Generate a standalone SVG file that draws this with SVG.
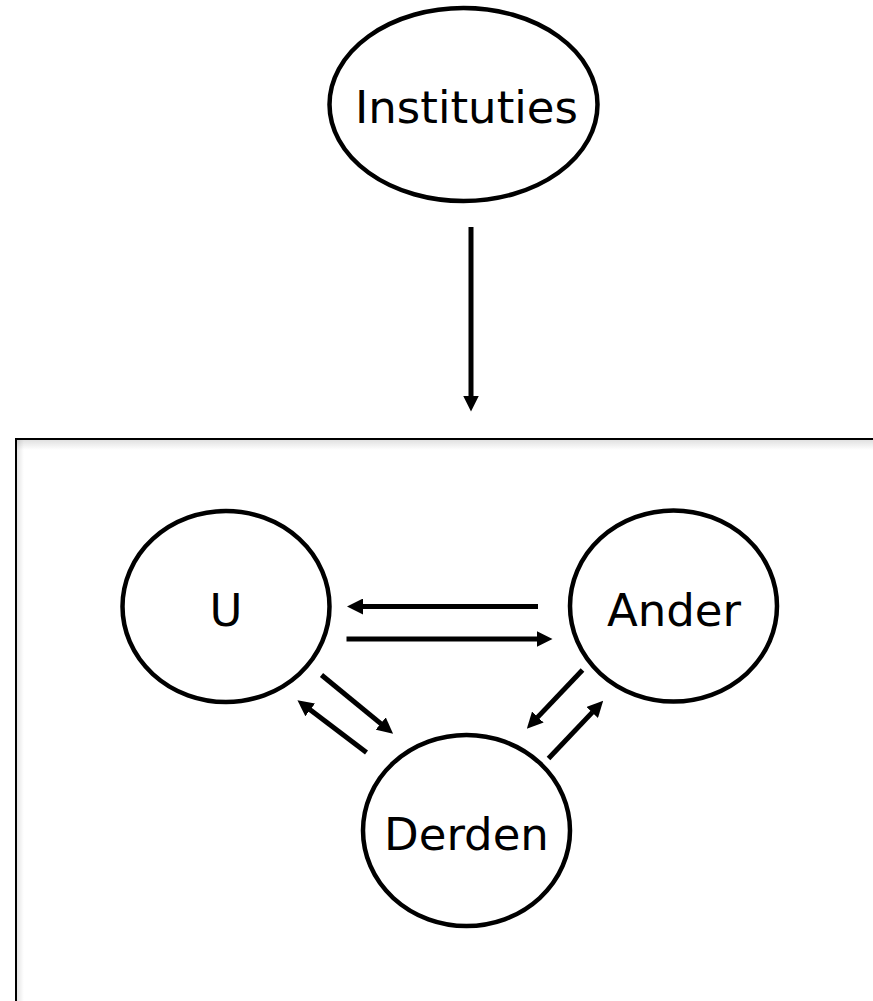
<svg xmlns="http://www.w3.org/2000/svg" width="873" height="1001" viewBox="0 0 873 1001">
  <style>
    .node { fill: #ffffff; stroke: #000000; stroke-width: 4.5; }
    .label { font-family: "DejaVu Sans", "Liberation Sans", sans-serif; font-size: 45px; fill: #000000; text-anchor: middle; }
    .edge { stroke: #000000; stroke-width: 5; fill: none; marker-end: url(#arrow); }
  </style>
  <defs>
    <marker id="arrow" markerUnits="userSpaceOnUse" markerWidth="16" markerHeight="16" viewBox="0 0 16 16" refX="0.5" refY="8" orient="auto">
      <path d="M0,0 L16,8 L0,16 z" fill="#000000"/>
    </marker>
    <linearGradient id="shadowTop" x1="0" y1="0" x2="0" y2="1">
      <stop offset="0" stop-color="#000000" stop-opacity="0.12"/>
      <stop offset="1" stop-color="#000000" stop-opacity="0"/>
    </linearGradient>
    <linearGradient id="shadowLeft" x1="0" y1="0" x2="1" y2="0">
      <stop offset="0" stop-color="#000000" stop-opacity="0.1"/>
      <stop offset="1" stop-color="#000000" stop-opacity="0"/>
    </linearGradient>
  </defs>
  <rect x="0" y="0" width="873" height="1001" fill="#ffffff"/>

  <g id="frame">
    <rect x="17" y="440" width="870" height="10" fill="url(#shadowTop)"/>
    <rect x="17" y="440" width="7" height="570" fill="url(#shadowLeft)"/>
    <rect x="16" y="439" width="880" height="600" fill="none" stroke="#000000" stroke-width="2"/>
  </g>

  <g id="node-instituties">
    <ellipse class="node" cx="463.5" cy="104.5" rx="134" ry="96.5"/>
    <text class="label" x="466.5" y="123">Instituties</text>
  </g>

  <g id="node-u">
    <ellipse class="node" cx="226" cy="606.5" rx="103.5" ry="95.5"/>
    <text class="label" x="226" y="626">U</text>
  </g>

  <g id="node-ander">
    <ellipse class="node" cx="673.5" cy="606" rx="103.5" ry="95.5"/>
    <text class="label" x="674" y="626">Ander</text>
  </g>

  <g id="node-derden">
    <ellipse class="node" cx="466.5" cy="830.5" rx="103.5" ry="95.5"/>
    <text class="label" x="466.5" y="850">Derden</text>
  </g>

  <g id="connectors">
    <line class="edge" x1="471" y1="227" x2="471" y2="396"/>
    <line class="edge" x1="538" y1="606.5" x2="362.5" y2="606.5"/>
    <line class="edge" x1="346.5" y1="639" x2="537" y2="639"/>
    <line class="edge" x1="321.5" y1="675" x2="381.1" y2="723.9"/>
    <line class="edge" x1="366.5" y1="752.5" x2="309.8" y2="709.6"/>
    <line class="edge" x1="582.5" y1="670" x2="537.5" y2="717.4"/>
    <line class="edge" x1="548.5" y1="758.5" x2="592.5" y2="712.1"/>
  </g>
</svg>
